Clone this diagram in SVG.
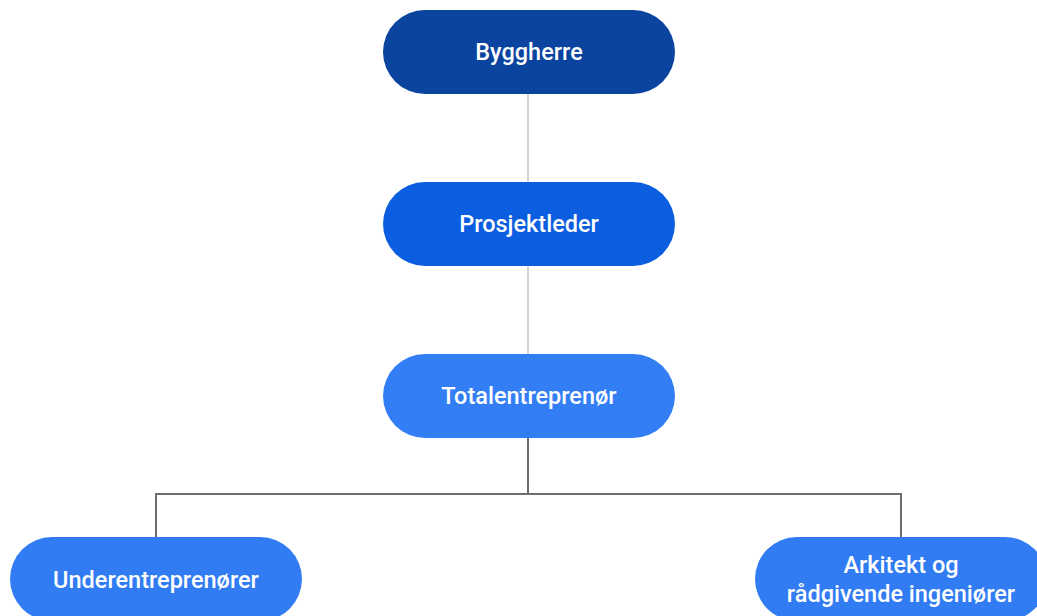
<svg xmlns="http://www.w3.org/2000/svg" width="1037" height="616" viewBox="0 0 1037 616">
<style>
.t{font-family:Roboto,"Liberation Sans",sans-serif;font-size:23.5px;font-weight:500;fill:#ffffff;text-anchor:middle;dominant-baseline:central}
.lt{stroke:#c4c4c4;stroke-width:1.5;fill:none}
.dk{stroke:#6e6e6e;stroke-width:2;fill:none}
</style>
<rect width="1037" height="616" fill="#ffffff"/>
<g id="connectors">
<line class="lt" x1="528" y1="94" x2="528" y2="182"/>
<line class="lt" x1="528" y1="266" x2="528" y2="354"/>
<line class="dk" x1="528" y1="438" x2="528" y2="494" stroke="#4a4a4a"/>
<polyline class="dk" points="156,537 156,494 901,494 901,537"/>
</g>
<g id="byggherre">
<rect x="383" y="10" width="292" height="84" rx="42" fill="#0a449f"/>
<text class="t" x="529" y="52">Byggherre</text>
</g>
<g id="prosjektleder">
<rect x="383" y="182" width="292" height="84" rx="42" fill="#0b5ee0"/>
<text class="t" x="529" y="224">Prosjektleder</text>
</g>
<g id="totalentreprenor">
<rect x="383" y="354" width="292" height="84" rx="42" fill="#337ef5"/>
<text class="t" x="529" y="396">Totalentreprenør</text>
</g>
<g id="underentreprenorer">
<rect x="10" y="537" width="292" height="84" rx="42" fill="#317cf2"/>
<text class="t" x="156" y="580">Underentreprenører</text>
</g>
<g id="arkitekt">
<rect x="755" y="537" width="292" height="84" rx="42" fill="#317cf2"/>
<text class="t" x="901" y="565">Arkitekt og</text>
<text class="t" x="901" y="594">rådgivende ingeniører</text>
</g>
</svg>
